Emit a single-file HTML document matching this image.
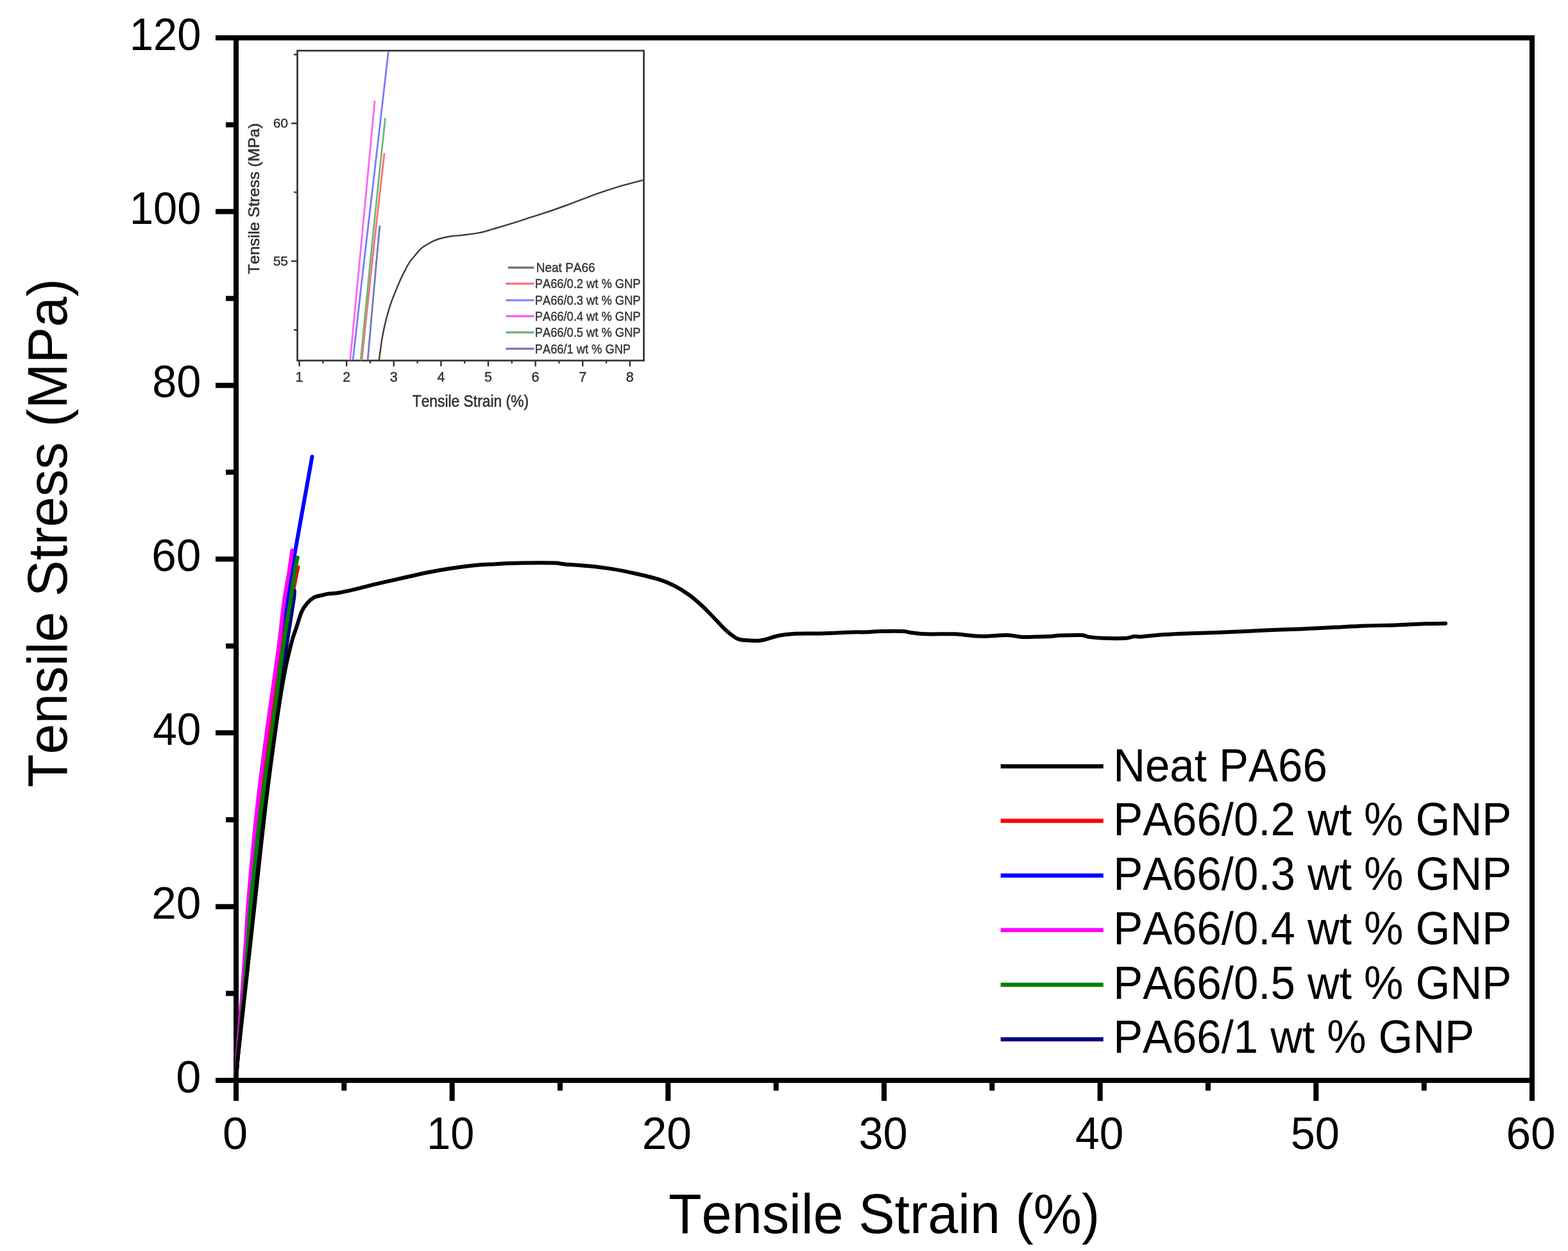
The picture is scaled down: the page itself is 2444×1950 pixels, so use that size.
<!DOCTYPE html>
<html><head><meta charset="utf-8"><style>
html,body{margin:0;padding:0;background:#fff;}
svg{display:block;}
text{font-kerning:none;}
.tl{font-family:'Liberation Sans', Arial, sans-serif;fill:#000;}
.at{font-family:'Liberation Sans', Arial, sans-serif;fill:#000;}
.lg{font-family:'Liberation Sans', Arial, sans-serif;fill:#000;}
.it{font-family:'Liberation Sans', Arial, sans-serif;fill:#333;stroke:#333;stroke-width:0.45px;}
.itt{stroke-width:0.6px;}
</style></head><body>
<svg width="2444" height="1950" viewBox="0 0 2444 1950">
<rect width="2444" height="1950" fill="#fff"/>
<g id="inset">
<rect x="463.5" y="79.0" width="540.0" height="483.0" fill="none" stroke="#333" stroke-width="2.7"/>
<path d="M466.6 562.0V571.0 M503.4 562.0V566.5 M540.2 562.0V571.0 M577.0 562.0V566.5 M613.8 562.0V571.0 M650.6 562.0V566.5 M687.4 562.0V571.0 M724.2 562.0V566.5 M761.0 562.0V571.0 M797.8 562.0V566.5 M834.6 562.0V571.0 M871.4 562.0V566.5 M908.2 562.0V571.0 M945.0 562.0V566.5 M981.8 562.0V571.0 M463.5 85.0H458.0 M463.5 192.3H454.0 M463.5 299.6H458.0 M463.5 407.0H454.0 M463.5 514.3H458.0" stroke="#333" stroke-width="2.4" fill="none"/>
<text x="466.6" y="594.5" text-anchor="middle" class="it" font-size="21.5">1</text>
<text x="540.2" y="594.5" text-anchor="middle" class="it" font-size="21.5">2</text>
<text x="613.8" y="594.5" text-anchor="middle" class="it" font-size="21.5">3</text>
<text x="687.4" y="594.5" text-anchor="middle" class="it" font-size="21.5">4</text>
<text x="761.0" y="594.5" text-anchor="middle" class="it" font-size="21.5">5</text>
<text x="834.6" y="594.5" text-anchor="middle" class="it" font-size="21.5">6</text>
<text x="908.2" y="594.5" text-anchor="middle" class="it" font-size="21.5">7</text>
<text x="981.8" y="594.5" text-anchor="middle" class="it" font-size="21.5">8</text>
<text x="449" y="198.8" text-anchor="end" class="it" font-size="21">60</text>
<text x="449" y="413.5" text-anchor="end" class="it" font-size="21">55</text>
<text x="642.72" y="633.60" class="it itt" font-size="26" textLength="181.31" lengthAdjust="spacingAndGlyphs">Tensile Strain (%)</text>
<text transform="translate(403.70,427.20) rotate(-90)" x="0" y="0" class="it itt" font-size="24.5" textLength="235.35" lengthAdjust="spacingAndGlyphs">Tensile Stress (MPa)</text>
<path d="M590.9 561.3 C591.6 555.9 593.7 538.6 595.3 529.0 C596.9 519.4 598.8 510.9 600.5 503.5 C602.2 496.1 603.7 490.7 605.6 484.3 C607.5 477.9 609.9 470.9 612.0 465.1 C614.1 459.3 616.3 454.8 618.4 449.7 C620.5 444.6 622.7 439.1 624.8 434.4 C626.9 429.7 629.1 425.7 631.2 421.6 C633.3 417.6 635.0 413.9 637.5 410.1 C640.0 406.3 643.3 402.4 646.5 398.6 C649.7 394.8 652.9 390.4 656.7 387.1 C660.5 383.8 665.2 381.2 669.5 378.8 C673.8 376.4 677.0 374.7 682.3 373.0 C687.6 371.3 695.2 369.6 701.5 368.5 C707.8 367.4 712.4 367.5 720.0 366.6 C727.6 365.7 737.9 364.8 746.9 362.9 C755.9 361.0 764.8 358.1 773.8 355.5 C782.8 352.9 791.7 350.2 800.7 347.4 C809.7 344.6 818.6 341.6 827.6 338.7 C836.6 335.8 845.5 333.0 854.5 330.0 C863.5 327.0 872.4 323.8 881.4 320.5 C890.4 317.2 899.3 313.8 908.3 310.4 C917.3 307.0 926.2 303.5 935.2 300.4 C944.2 297.3 953.1 294.3 962.1 291.6 C971.1 288.9 982.3 286.0 989.0 284.2 C995.7 282.4 1000.2 281.4 1002.5 280.9" stroke="#3c3c3c" stroke-width="2.4" fill="none"/>
<path d="M564.0 561.3 C566.8 534.4 575.1 453.7 581.0 400.0 C586.9 346.3 596.1 265.8 599.1 239.0" stroke="#ff7272" stroke-width="2.8" fill="none"/>
<path d="M550.1 561.3 C552.8 537.8 560.5 467.5 566.0 420.0 C571.5 372.5 576.2 333.1 582.8 276.4 C589.4 219.7 601.6 112.7 605.4 80.0" stroke="#7a7aff" stroke-width="2.8" fill="none"/>
<path d="M545.8 561.3 C549.0 527.8 558.6 427.4 565.0 360.0 C571.4 292.6 580.9 190.8 584.1 157.0" stroke="#ff66f0" stroke-width="2.8" fill="none"/>
<path d="M562.2 561.3 C565.3 529.4 574.6 432.9 581.0 370.0 C587.4 307.1 597.2 214.8 600.5 183.8" stroke="#6cb87c" stroke-width="2.8" fill="none"/>
<path d="M573.2 561.3 C574.8 543.6 579.4 490.0 582.5 455.0 C585.6 420.0 590.3 368.6 591.9 351.3" stroke="#6f7ac0" stroke-width="2.8" fill="none"/>
<path d="M791.8 417.2H832.5" stroke="#707070" stroke-width="3.2"/>
<text x="835.82" y="424.20" class="it" font-size="21" textLength="91.76" lengthAdjust="spacingAndGlyphs">Neat PA66</text>
<path d="M788.4 442.2H832.5" stroke="#ff7070" stroke-width="3.2"/>
<text x="833.78" y="449.20" class="it" font-size="21" textLength="164.67" lengthAdjust="spacingAndGlyphs">PA66/0.2 wt % GNP</text>
<path d="M788.4 468.0H832.5" stroke="#8080ff" stroke-width="3.2"/>
<text x="833.78" y="475.00" class="it" font-size="21" textLength="164.67" lengthAdjust="spacingAndGlyphs">PA66/0.3 wt % GNP</text>
<path d="M788.4 492.9H832.5" stroke="#ff55ff" stroke-width="3.2"/>
<text x="833.78" y="499.90" class="it" font-size="21" textLength="164.67" lengthAdjust="spacingAndGlyphs">PA66/0.4 wt % GNP</text>
<path d="M788.4 518.1H832.5" stroke="#70b070" stroke-width="3.2"/>
<text x="833.78" y="525.10" class="it" font-size="21" textLength="164.67" lengthAdjust="spacingAndGlyphs">PA66/0.5 wt % GNP</text>
<path d="M788.4 543.6H832.5" stroke="#7078b8" stroke-width="3.2"/>
<text x="833.77" y="550.60" class="it" font-size="21" textLength="149.28" lengthAdjust="spacingAndGlyphs">PA66/1 wt % GNP</text>
</g>
<rect x="368" y="59" width="2020" height="1625" fill="none" stroke="#000" stroke-width="8"/>
<path d="M368.0 1684V1716 M536.3 1684V1700 M704.7 1684V1716 M873.0 1684V1700 M1041.3 1684V1716 M1209.7 1684V1700 M1378.0 1684V1716 M1546.3 1684V1700 M1714.7 1684V1716 M1883.0 1684V1700 M2051.3 1684V1716 M2219.7 1684V1700 M2388.0 1684V1716 M368 1684.0H336 M368 1548.6H352 M368 1413.2H336 M368 1277.8H352 M368 1142.3H336 M368 1006.9H352 M368 871.5H336 M368 736.1H352 M368 600.7H336 M368 465.2H352 M368 329.8H336 M368 194.4H352 M368 59.0H336" stroke="#000" stroke-width="8" fill="none"/>
<text x="346.94" y="1791.20" class="tl" font-size="71" textLength="39.11" lengthAdjust="spacingAndGlyphs">0</text>
<text x="665.16" y="1791.20" class="tl" font-size="71" textLength="74.15" lengthAdjust="spacingAndGlyphs">10</text>
<text x="1000.72" y="1791.20" class="tl" font-size="71" textLength="77.24" lengthAdjust="spacingAndGlyphs">20</text>
<text x="1338.42" y="1791.20" class="tl" font-size="71" textLength="76.18" lengthAdjust="spacingAndGlyphs">30</text>
<text x="1676.09" y="1791.20" class="tl" font-size="71" textLength="75.15" lengthAdjust="spacingAndGlyphs">40</text>
<text x="2011.75" y="1791.20" class="tl" font-size="71" textLength="76.18" lengthAdjust="spacingAndGlyphs">50</text>
<text x="2347.39" y="1791.20" class="tl" font-size="71" textLength="77.24" lengthAdjust="spacingAndGlyphs">60</text>
<text x="274.29" y="1702.80" class="tl" font-size="71" textLength="39.11" lengthAdjust="spacingAndGlyphs">0</text>
<text x="236.14" y="1431.97" class="tl" font-size="71" textLength="77.24" lengthAdjust="spacingAndGlyphs">20</text>
<text x="238.17" y="1161.13" class="tl" font-size="71" textLength="75.15" lengthAdjust="spacingAndGlyphs">40</text>
<text x="236.14" y="890.30" class="tl" font-size="71" textLength="77.24" lengthAdjust="spacingAndGlyphs">60</text>
<text x="237.17" y="619.47" class="tl" font-size="71" textLength="76.18" lengthAdjust="spacingAndGlyphs">80</text>
<text x="201.94" y="348.63" class="tl" font-size="71" textLength="111.36" lengthAdjust="spacingAndGlyphs">100</text>
<text x="201.94" y="77.80" class="tl" font-size="71" textLength="111.36" lengthAdjust="spacingAndGlyphs">120</text>
<text x="1041.95" y="1922.20" class="at" font-size="87" textLength="672.29" lengthAdjust="spacingAndGlyphs">Tensile Strain (%)</text>
<text transform="translate(104.00,1227.46) rotate(-90)" x="0" y="0" class="at" font-size="87" textLength="793.20" lengthAdjust="spacingAndGlyphs">Tensile Stress (MPa)</text>
<path d="M368.0 1684.0 C368.3 1678.3 368.3 1670.7 370.0 1650.0 C371.7 1629.3 375.5 1590.0 378.0 1560.0 C380.5 1530.0 383.1 1496.7 385.0 1470.0 C386.9 1443.3 386.3 1435.5 389.5 1400.0 C392.7 1364.5 398.8 1302.0 404.0 1257.0 C409.2 1212.0 415.9 1164.2 420.5 1130.0 C425.1 1095.8 428.3 1073.4 431.5 1051.7 C434.7 1030.0 436.8 1019.0 439.5 1000.0 C442.2 981.0 445.0 956.0 447.5 937.7 C450.0 919.4 452.6 902.1 454.5 890.0 C456.4 877.9 456.0 881.9 459.0 865.0 C462.0 848.1 468.1 814.1 472.7 788.6 C477.3 763.1 484.2 724.5 486.5 711.7" stroke="#0000ff" stroke-width="6" fill="none" stroke-linejoin="round" stroke-linecap="round"/>
<path d="M368.0 1684.0 C368.4 1678.3 368.6 1670.7 370.3 1650.0 C372.1 1629.3 376.0 1590.0 378.5 1560.0 C381.0 1530.0 383.6 1496.7 385.5 1470.0 C387.4 1443.3 386.7 1435.5 390.0 1400.0 C393.3 1364.5 400.2 1302.0 405.5 1257.0 C410.8 1212.0 417.0 1164.2 421.5 1130.0 C426.0 1095.8 429.2 1073.4 432.5 1051.7 C435.8 1030.0 437.5 1019.0 441.0 1000.0 C444.5 981.0 449.6 957.0 453.5 937.7 C457.4 918.4 462.7 893.0 464.5 884.0" stroke="#ff0000" stroke-width="6" fill="none" stroke-linejoin="round" stroke-linecap="round"/>
<path d="M368.0 1684.0 C368.4 1678.3 368.6 1670.7 370.5 1650.0 C372.4 1629.3 376.7 1590.0 379.5 1560.0 C382.3 1530.0 385.3 1496.7 387.5 1470.0 C389.7 1443.3 388.9 1435.5 392.5 1400.0 C396.1 1364.5 403.1 1302.0 409.0 1257.0 C414.9 1212.0 422.8 1164.2 428.0 1130.0 C433.2 1095.8 436.8 1073.4 440.0 1051.7 C443.2 1030.0 444.6 1019.0 447.5 1000.0 C450.4 981.0 455.4 950.9 457.3 937.7 C459.2 924.5 458.6 923.8 458.9 921.0" stroke="#000080" stroke-width="6" fill="none" stroke-linejoin="round" stroke-linecap="round"/>
<path d="M368.0 1684.0 C368.2 1678.3 368.1 1670.7 369.5 1650.0 C370.9 1629.3 374.3 1590.0 376.5 1560.0 C378.7 1530.0 381.0 1496.7 382.8 1470.0 C384.6 1443.3 384.4 1435.5 387.4 1400.0 C390.4 1364.5 396.0 1302.0 401.0 1257.0 C406.0 1212.0 412.6 1164.2 417.2 1130.0 C421.8 1095.8 425.3 1073.4 428.3 1051.7 C431.3 1030.0 433.0 1019.0 435.4 1000.0 C437.8 981.0 440.1 956.2 442.7 937.7 C445.3 919.2 448.8 902.2 450.9 888.9 C453.0 875.6 454.6 863.1 455.4 858.0" stroke="#ff00ff" stroke-width="6" fill="none" stroke-linejoin="round" stroke-linecap="round"/>
<path d="M368.0 1684.0 C368.4 1678.3 368.7 1670.7 370.5 1650.0 C372.3 1629.3 376.3 1590.0 379.0 1560.0 C381.7 1530.0 384.4 1496.7 386.5 1470.0 C388.6 1443.3 388.0 1435.5 391.5 1400.0 C395.0 1364.5 401.9 1302.0 407.5 1257.0 C413.1 1212.0 420.6 1164.2 425.2 1130.0 C429.8 1095.8 432.4 1073.4 435.3 1051.7 C438.2 1030.0 439.6 1019.0 442.5 1000.0 C445.4 981.0 449.7 956.2 452.6 937.7 C455.5 919.2 457.9 900.4 459.8 888.9 C461.7 877.4 463.1 872.3 463.8 869.0" stroke="#008000" stroke-width="6" fill="none" stroke-linejoin="round" stroke-linecap="round"/>
<path d="M368.0 1684.0 C368.4 1678.3 368.4 1670.7 370.5 1650.0 C372.6 1629.3 377.1 1590.0 380.4 1560.0 C383.7 1530.0 387.4 1496.7 390.3 1470.0 C393.2 1443.3 394.1 1435.5 398.0 1400.0 C401.9 1364.5 408.4 1302.0 413.8 1257.0 C419.2 1212.0 425.6 1164.2 430.5 1130.0 C435.4 1095.8 439.1 1072.9 443.0 1051.7 C446.9 1030.5 450.9 1015.1 454.0 1002.9 C457.1 990.7 459.2 986.5 461.9 978.4 C464.6 970.2 467.3 960.2 470.0 954.0 C472.7 947.8 474.9 944.8 478.2 941.0 C481.5 937.2 485.8 933.4 489.6 931.2 C493.4 929.0 497.6 928.9 501.0 928.0 C504.4 927.1 505.2 926.6 509.7 925.9 C514.2 925.2 520.8 925.2 528.2 924.0 C535.6 922.8 543.7 920.9 554.2 918.4 C564.7 915.9 578.9 912.1 591.3 909.2 C603.7 906.3 616.0 903.6 628.4 900.8 C640.8 898.0 653.1 895.0 665.5 892.5 C677.9 890.0 690.2 887.9 702.6 886.0 C715.0 884.1 727.3 882.5 739.7 881.3 C752.1 880.1 764.4 879.5 776.8 878.9 C789.2 878.3 799.5 877.8 814.0 877.6 C828.5 877.4 853.0 877.3 864.0 877.6 C875.0 877.9 871.1 878.7 880.0 879.5 C888.9 880.3 904.7 881.1 917.1 882.3 C929.5 883.5 941.8 884.9 954.2 886.9 C966.6 888.9 978.9 891.5 991.3 894.3 C1003.7 897.1 1018.5 900.5 1028.4 903.6 C1038.3 906.7 1043.0 908.9 1050.7 912.9 C1058.4 916.9 1067.7 922.6 1074.8 927.7 C1081.9 932.8 1087.2 937.8 1093.4 943.5 C1099.6 949.2 1105.7 955.7 1111.9 962.0 C1118.1 968.3 1124.3 975.9 1130.5 981.5 C1136.7 987.1 1142.8 992.6 1149.0 995.4 C1155.2 998.2 1161.4 997.7 1167.6 998.2 C1173.8 998.7 1178.4 999.4 1186.1 998.2 C1193.8 997.0 1205.7 992.5 1214.0 990.8 C1222.3 989.1 1225.2 988.6 1236.2 988.0 C1247.2 987.4 1265.0 987.8 1280.0 987.4 C1295.0 987.0 1314.8 985.9 1326.4 985.5 C1338.0 985.1 1341.9 985.6 1349.6 985.3 C1357.3 985.0 1363.1 984.1 1372.8 983.9 C1382.5 983.7 1399.8 983.5 1407.5 983.9 C1415.2 984.2 1413.2 985.3 1419.0 986.0 C1424.8 986.7 1430.7 987.9 1442.3 988.3 C1453.9 988.7 1477.1 987.9 1488.7 988.3 C1500.3 988.7 1504.2 990.0 1511.9 990.6 C1519.6 991.2 1525.4 991.9 1535.1 991.8 C1544.8 991.7 1560.2 989.9 1569.9 990.1 C1579.6 990.3 1585.4 992.5 1593.1 992.9 C1600.8 993.3 1608.6 992.7 1616.3 992.5 C1624.0 992.3 1633.7 992.1 1639.5 991.8 C1645.3 991.5 1643.3 990.9 1651.0 990.6 C1658.7 990.3 1678.1 989.7 1685.8 990.1 C1693.5 990.5 1691.6 992.1 1697.4 992.9 C1703.2 993.7 1710.9 994.5 1720.6 994.8 C1730.3 995.1 1747.7 995.3 1755.4 994.8 C1763.1 994.3 1762.9 992.4 1767.0 992.0 C1771.1 991.6 1774.0 992.8 1780.0 992.4 C1786.0 992.0 1791.6 990.7 1803.2 989.9 C1814.8 989.1 1834.1 988.2 1849.6 987.6 C1865.1 987.0 1880.5 986.6 1896.0 986.0 C1911.5 985.4 1926.8 984.6 1942.3 983.9 C1957.8 983.2 1973.2 982.4 1988.7 981.8 C2004.2 981.2 2019.6 980.8 2035.1 980.1 C2050.6 979.4 2066.0 978.6 2081.5 977.8 C2097.0 977.0 2112.5 976.1 2127.9 975.5 C2143.3 974.9 2158.8 974.9 2174.2 974.4 C2189.6 973.9 2207.4 972.7 2220.6 972.3 C2233.8 971.9 2247.7 971.9 2253.1 971.8" stroke="#000" stroke-width="6" fill="none" stroke-linejoin="round" stroke-linecap="round"/>
<path d="M1559.7 1194.5H1719.8" stroke="#000" stroke-width="6.5"/>
<text x="1735.16" y="1217.50" class="lg" font-size="73" textLength="333.63" lengthAdjust="spacingAndGlyphs">Neat PA66</text>
<path d="M1559.7 1279.6H1719.8" stroke="#ff0000" stroke-width="6.5"/>
<text x="1735.15" y="1302.25" class="lg" font-size="73" textLength="620.85" lengthAdjust="spacingAndGlyphs">PA66/0.2 wt % GNP</text>
<path d="M1559.7 1364.7H1719.8" stroke="#0000ff" stroke-width="6.5"/>
<text x="1735.15" y="1387.00" class="lg" font-size="73" textLength="620.85" lengthAdjust="spacingAndGlyphs">PA66/0.3 wt % GNP</text>
<path d="M1559.7 1449.8H1719.8" stroke="#ff00ff" stroke-width="6.5"/>
<text x="1735.15" y="1471.75" class="lg" font-size="73" textLength="620.85" lengthAdjust="spacingAndGlyphs">PA66/0.4 wt % GNP</text>
<path d="M1559.7 1534.9H1719.8" stroke="#008000" stroke-width="6.5"/>
<text x="1735.15" y="1556.50" class="lg" font-size="73" textLength="620.85" lengthAdjust="spacingAndGlyphs">PA66/0.5 wt % GNP</text>
<path d="M1559.7 1620.0H1719.8" stroke="#000080" stroke-width="6.5"/>
<text x="1735.15" y="1641.25" class="lg" font-size="73" textLength="562.74" lengthAdjust="spacingAndGlyphs">PA66/1 wt % GNP</text>
</svg>
</body></html>
